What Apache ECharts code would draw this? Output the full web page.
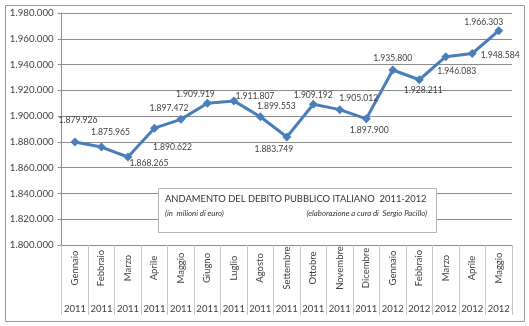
<!DOCTYPE html>
<html>
<head>
<meta charset="utf-8">
<script src="https://cdn.jsdelivr.net/npm/echarts@6/dist/echarts.min.js"></script>
<style>
html,body{margin:0;padding:0;background:#fff;}
#c{width:529px;height:326px;}
</style>
</head>
<body>
<div id="c"></div>
<script>
const months = ['Gennaio','Febbraio','Marzo','Aprile','Maggio','Giugno','Luglio','Agosto','Settembre','Ottobre','Novembre','Dicembre','Gennaio','Febbraio','Marzo','Aprile','Maggio'];
const years = ['2011','2011','2011','2011','2011','2011','2011','2011','2011','2011','2011','2011','2012','2012','2012','2012','2012'];
const debt = [1879926,1875965,1868265,1890622,1897472,1909919,1911807,1899553,1883749,1909192,1905012,1897900,1935800,1928211,1946083,1948584,1966303];
const yTicks = {min:1800000, max:1980000, interval:20000};
const titleText = 'ANDAMENTO DEL DEBITO PUBBLICO ITALIANO  2011-2012';
const subLeft = '(in  milioni di euro)';
const subRight = '(elaborazione a cura di  Sergio Pacillo)';

// label offsets (styling only)
const labelOffsets = [[3,-22],[9,-15],[21,6],[18,19],[-12,-11],[-12,-9],[21,-5],[16,-10],[-13,12],[0,-9],[19,-11],[3,11],[0,-12],[4,10],[11,15],[28,2],[-15,-8]];

function fmt(v){return String(v).replace(/\B(?=(\d{3})+(?!\d))/g,'.');}

const FONT = 'Lato';
const chart = echarts.init(document.getElementById('c'));
const gridCol = '#8c8c8c';
chart.setOption({
  animation:false,
  backgroundColor:'#fff',
  grid:{left:61.7, right:17, top:13, bottom:81, containLabel:false},
  xAxis:[{
    type:'category', data:months, position:'bottom', boundaryGap:true,
    axisLine:{show:true, lineStyle:{color:gridCol, width:1}},
    axisTick:{show:true, interval:0, length:70, lineStyle:{color:'#c8c8c8', width:1}},
    axisLabel:{interval:0, rotate:90, align:'center', verticalAlign:'middle', margin:23, fontFamily:FONT, fontSize:9.5, color:'#404040'},
    splitLine:{show:false}
  },{
    type:'category', data:years, position:'bottom', boundaryGap:true,
    axisLine:{show:false}, axisTick:{show:false},
    axisLabel:{interval:0, margin:59, fontFamily:FONT, fontSize:9.5, color:'#404040'},
    splitLine:{show:false}
  }],
  yAxis:{
    type:'value', min:yTicks.min, max:yTicks.max, interval:yTicks.interval,
    axisLine:{show:true, lineStyle:{color:gridCol}},
    axisTick:{show:true, length:4, lineStyle:{color:gridCol}},
    axisLabel:{formatter:fmt, margin:8, fontFamily:FONT, fontSize:9.7, color:'#404040'},
    splitLine:{show:true, lineStyle:{color:gridCol, width:1}}
  },
  series:[{
    type:'line', xAxisIndex:0,
    data:debt.map((v,i)=>({value:v, label:{offset:labelOffsets[i]}})),
    symbol:'diamond', symbolSize:9,
    lineStyle:{color:'#4a7ebb', width:3},
    itemStyle:{color:'#4a7ebb'},
    label:{show:true, position:'inside', align:'center', verticalAlign:'middle', formatter:p=>fmt(p.value), fontFamily:FONT, fontSize:8.6, color:'#404040'},
    z:10
  }],
  graphic:[
    {type:'rect', left:3, top:3, shape:{width:519, height:316}, style:{fill:'none', stroke:'#9a9a9a', lineWidth:1}, z:0},
    {type:'rect', left:158, top:188, shape:{width:278, height:44}, style:{fill:'#fff', stroke:'#b5b5b5', lineWidth:1}, z:50},
    {type:'text', left:165, top:194, style:{text:titleText, font:'9.4px Lato', fill:'#333'}, z:51},
    {type:'text', left:165, top:209, style:{text:subLeft, font:'italic 7.8px Lato', fill:'#333'}, z:51},
    {type:'text', right:102, top:209, style:{text:subRight, font:'italic 7.8px Lato', fill:'#333', textAlign:'right'}, z:51}
  ]
});
</script>
</body>
</html>
